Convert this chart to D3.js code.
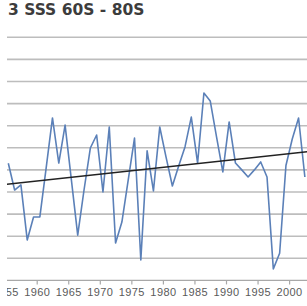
<!DOCTYPE html>
<html>
<head>
<meta charset="utf-8">
<script src="https://cdnjs.cloudflare.com/ajax/libs/d3/7.8.5/d3.min.js"></script>
<style>
  html, body { margin: 0; padding: 0; background: #fff; overflow: hidden; }
</style>
</head>
<body>
<div id="chart"></div>
<script>
// Data (the left part of the original chart is cut off)
const title = "3 SSS 60S - 80S";

const years = [1955, 1956, 1957, 1958, 1959, 1960, 1961, 1962, 1963, 1964,
               1965, 1966, 1967, 1968, 1969, 1970, 1971, 1972, 1973, 1974,
               1975, 1976, 1977, 1978, 1979, 1980, 1981, 1982, 1983, 1984,
               1985, 1986, 1987, 1988, 1989, 1990, 1991, 1992, 1993, 1994,
               1995, 1996, 1997, 1998, 1999, 2000, 2001, 2002];

const sss = [5.30, 4.09, 4.32, 1.83, 2.87, 2.87, 5.09, 7.35, 5.31, 7.03,
             4.54, 2.05, 4.09, 5.99, 6.58, 4.00, 6.94, 1.69, 2.64, 4.54,
             6.44, 0.92, 5.86, 4.05, 6.94, 5.58, 4.27, 5.18, 6.04, 7.39,
             5.31, 8.48, 8.12, 6.49, 4.91, 7.17, 5.31, 5.00, 4.68, 5.00,
             5.36, 4.68, 0.52, 1.23, 5.20, 6.40, 7.35, 4.68];

// linear trend, end points
const trendYears = [1954, 2003];
const trendValues = [4.33, 5.84];

const tickYears = [1955, 1960, 1965, 1970, 1975, 1980, 1985, 1990, 1995, 2000];
const tickLabels = ["1955", "1960", "1965", "1970", "1975", "1980", "1985", "1990", "1995", "2000"];

const gridValues = [1, 2, 3, 4, 5, 6, 7, 8, 9, 10, 11];

const width = 307;
const height = 306;

const svg = d3.select("#chart")
    .append("svg")
    .attr("width", width)
    .attr("height", height);

svg.append("rect")
    .attr("width", width)
    .attr("height", height)
    .attr("fill", "#ffffff");

// the picture has a blank strip on the left
svg.append("defs").append("clipPath")
    .attr("id", "crop")
    .append("rect")
    .attr("x", 7).attr("y", 0)
    .attr("width", width - 7).attr("height", height);

const root = svg.append("g").attr("clip-path", "url(#crop)");

// scales: ticks sit on year boundaries, points in the middle of each year
const x = d3.scaleLinear()
    .domain([1960, 2000])
    .range([36.7, 289.1]);

const y = d3.scaleLinear()
    .domain([0, 11])
    .range([280.4, 37.3]);

// title
root.append("text")
    .attr("x", 8)
    .attr("y", 15)
    .attr("font-family", "DejaVu Sans, sans-serif")
    .attr("font-weight", "bold")
    .attr("font-size", "15.5px")
    .attr("fill", "#3c3c3c")
    .text(title);

// gridlines
root.append("g")
    .selectAll("line")
    .data(gridValues)
    .join("line")
    .attr("x1", 0)
    .attr("x2", width)
    .attr("y1", d => y(d))
    .attr("y2", d => y(d))
    .attr("stroke", "#bdbdbd")
    .attr("stroke-width", 1.6);

// x axis
const xAxis = root.append("g")
    .attr("transform", `translate(0,${y(0)})`)
    .call(
        d3.axisBottom(x)
            .tickValues(tickYears)
            .tickFormat((d, i) => tickLabels[i])
            .tickSize(4)
            .tickPadding(4)
    );

xAxis.select(".domain").remove();
xAxis.selectAll(".tick line")
    .attr("stroke", "#a8a8a8")
    .attr("stroke-width", 1.2);
xAxis.selectAll(".tick text")
    .attr("font-family", "Liberation Sans, Arial, sans-serif")
    .attr("font-size", "11px")
    .attr("letter-spacing", "0.4px")
    .attr("fill", "#5a5a5a");

root.append("line")
    .attr("x1", 0)
    .attr("x2", width)
    .attr("y1", y(0))
    .attr("y2", y(0))
    .attr("stroke", "#a8a8a8")
    .attr("stroke-width", 1.4);

// series line
const line = d3.line()
    .x((d, i) => x(years[i] + 0.5))
    .y(d => y(d));

root.append("path")
    .datum(sss)
    .attr("fill", "none")
    .attr("stroke", "#5b80b8")
    .attr("stroke-width", 1.6)
    .attr("stroke-linejoin", "round")
    .attr("d", line);

// trend line
const trend = d3.line()
    .x((d, i) => x(trendYears[i] + 0.5))
    .y(d => y(d));

root.append("path")
    .datum(trendValues)
    .attr("fill", "none")
    .attr("stroke", "#222222")
    .attr("stroke-width", 1.5)
    .attr("d", trend);
</script>
</body>
</html>
